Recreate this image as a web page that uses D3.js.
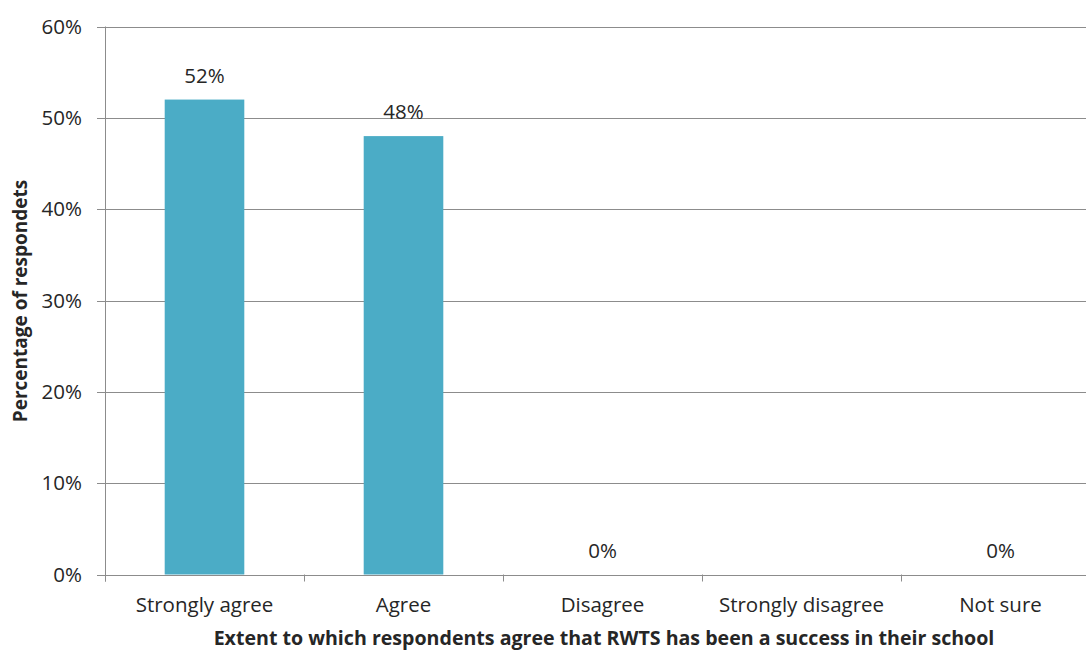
<!DOCTYPE html>
<html><head><meta charset="utf-8">
<script src="https://cdn.jsdelivr.net/npm/d3@7"></script>
<style>body{margin:0;background:#fff}svg{display:block}text{font-family:"Open Sans",sans-serif;fill:#262626}</style>
</head><body>
<svg id="c" width="1086" height="651"></svg>
<script>
const categories = ["Strongly agree","Agree","Disagree","Strongly disagree","Not sure"];
const values = [52, 48, 0, null, 0];
const yTicks = [0,10,20,30,40,50,60];
const xTitle = "Extent to which respondents agree that RWTS has been a success in their school";
const yTitle = "Percentage of respondets";

(function(){
const svg = d3.select("#c");
const mLeft = 105, mRight = 1100, mTop = 26.5, mBottom = 574.5;
const x = d3.scaleBand().domain(categories).range([mLeft, mRight]).padding(0);
const y = d3.scaleLinear().domain([0,60]).range([mBottom, mTop]);

svg.append("g").selectAll("line").data(yTicks).join("line")
  .attr("x1", mLeft-8).attr("x2", 1086)
  .attr("y1", d=>Math.round(y(d))+0.5).attr("y2", d=>Math.round(y(d))+0.5)
  .attr("stroke", "#8c8c8c").attr("stroke-width",1);

const bw = x.step()*0.4;
svg.append("g").selectAll("rect").data(categories.map((c,i)=>({c,v:values[i]})).filter(d=>d.v)).join("rect")
  .attr("x", d=>x(d.c)+x.step()*0.3).attr("width", bw)
  .attr("y", d=>y(d.v)).attr("height", d=>y(0)-y(d.v))
  .attr("fill", "#4BACC6");

svg.append("line").attr("x1", mLeft+0.5).attr("x2", mLeft+0.5).attr("y1", mTop).attr("y2", mBottom+7)
  .attr("stroke","#8c8c8c");
const xt = categories.map(c=>x(c)).concat([mRight]);
svg.append("g").selectAll("line").data(xt).join("line")
  .attr("x1", d=>Math.round(d)+0.5).attr("x2", d=>Math.round(d)+0.5)
  .attr("y1", mBottom).attr("y2", mBottom+7).attr("stroke","#8c8c8c");

svg.append("g").selectAll("text").data(yTicks).join("text")
  .attr("x", 82).attr("y", d=>y(d)).attr("dy","0.35em").attr("text-anchor","end")
  .style("font-size","20.5px").text(d=>d+"%");

svg.append("g").selectAll("text").data(categories).join("text")
  .attr("x", d=>x(d)+x.bandwidth()/2).attr("y", 612).attr("text-anchor","middle")
  .style("font-size","20.5px").text(d=>d);

svg.append("g").selectAll("text").data(categories.map((c,i)=>({c,v:values[i]})).filter(d=>d.v!==null)).join("text")
  .attr("x", d=>x(d.c)+x.bandwidth()/2).attr("y", d=>y(d.v)-17).attr("text-anchor","middle")
  .style("font-size","20.5px").text(d=>d.v+"%");

svg.append("text").attr("x", 604).attr("y", 645).attr("text-anchor","middle")
  .style("font-size","19.6px").style("font-weight","bold").text(xTitle);
svg.append("text").attr("transform","translate(27,301) rotate(-90)").attr("text-anchor","middle")
  .style("font-size","19px").style("font-weight","bold").text(yTitle);
})();
</script>
</body></html>
